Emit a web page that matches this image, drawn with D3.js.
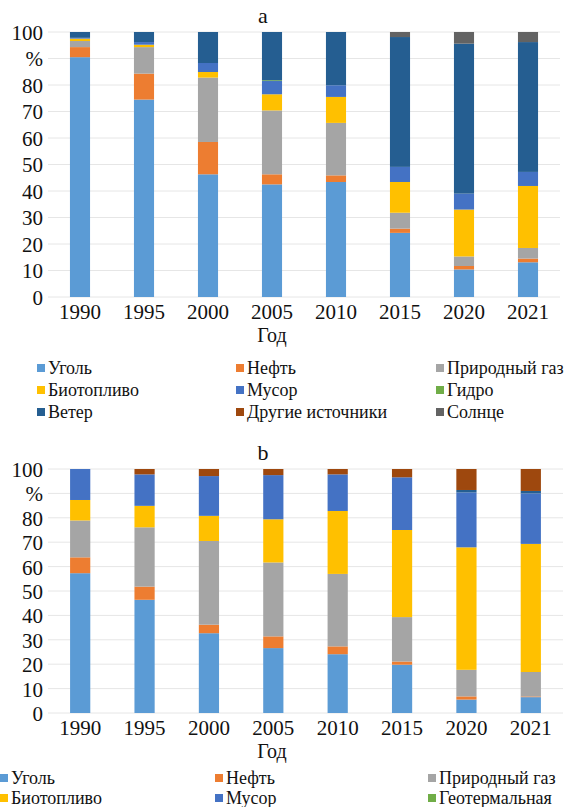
<!DOCTYPE html>
<html lang="ru">
<head>
    <meta charset="UTF-8">
    <title>Структура источников энергии</title>
    <script src="https://d3js.org/d3.v7.min.js"></script>
    <style>
        body { margin: 0; background: #ffffff; }
        svg { display: block; }
        svg text { font-family: "Liberation Serif", Tinos, "Noto Serif", "DejaVu Serif", FreeSerif, "Nimbus Roman", Times, serif; fill: #111; }
        .grid line { stroke: #e6e6e6; stroke-width: 1; }
        .tick-y, .tick-x { font-size: 21px; }
        .titulo { font-size: 22px; }
        .eje { font-size: 20px; }
        .leyenda { font-size: 18px; }
    </style>
</head>
<body>
<svg width="567" height="807"></svg>
<script>
    // годы
    const years = ["1990", "1995", "2000", "2005", "2010", "2015", "2020", "2021"];
    const yTicks = [0, 10, 20, 30, 40, 50, 60, 70, 80, 90, 100];
    const yTickLabels = ["0", "10", "20", "30", "40", "50", "60", "70", "80", "%", "100"];

    // график a
    const seriesA = ["Уголь", "Нефть", "Природный газ", "Биотопливо", "Мусор", "Гидро", "Ветер", "Другие источники", "Солнце"];
    const coalA  = [90.5, 74.5, 46.3, 42.5, 43.4, 24.2, 10.4, 13.1];
    const oilA   = [3.8, 9.8, 12.2, 3.8, 2.5, 1.6, 1.3, 1.4];
    const gasA   = [2.3, 10.0, 24.3, 24.1, 19.8, 6.0, 3.6, 4.0];
    const bioA   = [0.9, 0.9, 2.1, 6.1, 9.8, 11.6, 17.7, 23.4];
    const wasteA = [0.3, 1.0, 3.4, 5.0, 4.4, 5.7, 6.0, 5.3];
    const hydroA = [0, 0, 0, 0.3, 0, 0, 0, 0];
    const windA  = [2.2, 3.8, 11.7, 18.2, 20.1, 49.0, 56.6, 49.0];
    const otherA = [0, 0, 0, 0, 0, 0, 0, 0];
    const solarA = [0, 0, 0, 0, 0, 1.9, 4.4, 3.8];

    // график b (в легенде видны только первые шесть)
    const seriesB = ["Уголь", "Нефть", "Природный газ", "Биотопливо", "Мусор", "Геотермальная", "Ветер", "Другие источники"];
    const coalB  = [57.3, 46.4, 32.7, 26.6, 24.1, 19.8, 5.5, 6.5];
    const oilB   = [6.5, 5.4, 3.5, 4.8, 3.2, 1.3, 1.3, 0.3];
    const gasB   = [15.1, 24.3, 34.3, 30.3, 29.7, 18.2, 10.9, 10.0];
    const bioB   = [8.4, 8.8, 10.3, 17.7, 25.8, 35.7, 50.2, 52.5];
    const wasteB = [12.7, 12.9, 16.3, 18.1, 15.0, 21.6, 22.5, 20.7];
    const geoB   = [0, 0, 0, 0, 0, 0, 0, 0];
    const windB  = [0, 0, 0, 0, 0, 0, 1.0, 1.0];
    const otherB = [0, 2.2, 2.9, 2.5, 2.2, 3.4, 8.6, 9.0];

    const colores = {
        "Уголь": "#5b9bd5", "Нефть": "#ed7d31", "Природный газ": "#a5a5a5",
        "Биотопливо": "#ffc000", "Мусор": "#4472c4", "Гидро": "#70ad47",
        "Геотермальная": "#70ad47", "Ветер": "#255e91",
        "Другие источники": "#9e480e", "Солнце": "#636363"
    };

    const svg = d3.select("svg");

    function dibujar(cfg) {
        const tabla = years.map((y, i) => {
            const fila = { year: y };
            cfg.series.forEach((s, k) => fila[s] = cfg.valores[k][i]);
            return fila;
        });
        const pilas = d3.stack().keys(cfg.series)(tabla);

        const x = d3.scaleBand().domain(years).range([cfg.x0, cfg.x1])
            .paddingInner(0.686).paddingOuter(0.343);
        const y = d3.scaleLinear().domain([0, 100]).range([cfg.yBase, cfg.yTop]);

        const g = svg.append("g");

        g.append("g").attr("class", "grid")
            .selectAll("line").data(yTicks).join("line")
            .attr("x1", cfg.x0).attr("x2", cfg.x1)
            .attr("y1", d => y(d)).attr("y2", d => y(d));

        g.selectAll(".tick-y").data(yTicks).join("text")
            .attr("class", "tick-y")
            .attr("x", 43).attr("y", d => y(d)).attr("dy", "0.38em")
            .attr("text-anchor", "end")
            .text((d, i) => yTickLabels[i]);

        g.selectAll(".serie").data(pilas).join("g")
            .attr("fill", d => colores[d.key])
            .selectAll("rect").data(d => d).join("rect")
            .attr("x", d => x(d.data.year))
            .attr("width", x.bandwidth())
            .attr("y", d => y(d[1]))
            .attr("height", d => y(d[0]) - y(d[1]));

        g.selectAll(".tick-x").data(years).join("text")
            .attr("class", "tick-x")
            .attr("x", d => x(d) + x.bandwidth() / 2)
            .attr("y", cfg.yBase + 22)
            .attr("text-anchor", "middle")
            .text(d => d);

        g.append("text").attr("class", "titulo")
            .attr("x", 263).attr("y", cfg.yTop - 9)
            .attr("text-anchor", "middle").text(cfg.titulo);

        g.append("text").attr("class", "eje")
            .attr("x", 272).attr("y", cfg.yBase + 45)
            .attr("text-anchor", "middle").text("Год");

        const ley = g.selectAll(".item").data(cfg.series.slice(0, cfg.legN)).join("g")
            .attr("transform", (d, i) => `translate(${cfg.legX[i % 3]}, ${cfg.legY + Math.floor(i / 3) * cfg.legStep})`);
        ley.append("rect").attr("x", 0).attr("y", -4).attr("width", 8).attr("height", 8)
            .attr("fill", d => colores[d]);
        ley.append("text").attr("class", "leyenda")
            .attr("x", 11).attr("dy", "0.35em").text(d => d);
    }

    dibujar({
        titulo: "a", series: seriesA,
        valores: [coalA, oilA, gasA, bioA, wasteA, hydroA, windA, otherA, solarA],
        x0: 48, x1: 560, yBase: 297, yTop: 32,
        legX: [37, 236, 436], legY: 368, legStep: 22, legN: 9
    });

    dibujar({
        titulo: "b", series: seriesB,
        valores: [coalB, oilB, gasB, bioB, wasteB, geoB, windB, otherB],
        x0: 48, x1: 563, yBase: 713, yTop: 469,
        legX: [0, 215, 428], legY: 778, legStep: 20, legN: 6
    });
</script>
</body>
</html>
